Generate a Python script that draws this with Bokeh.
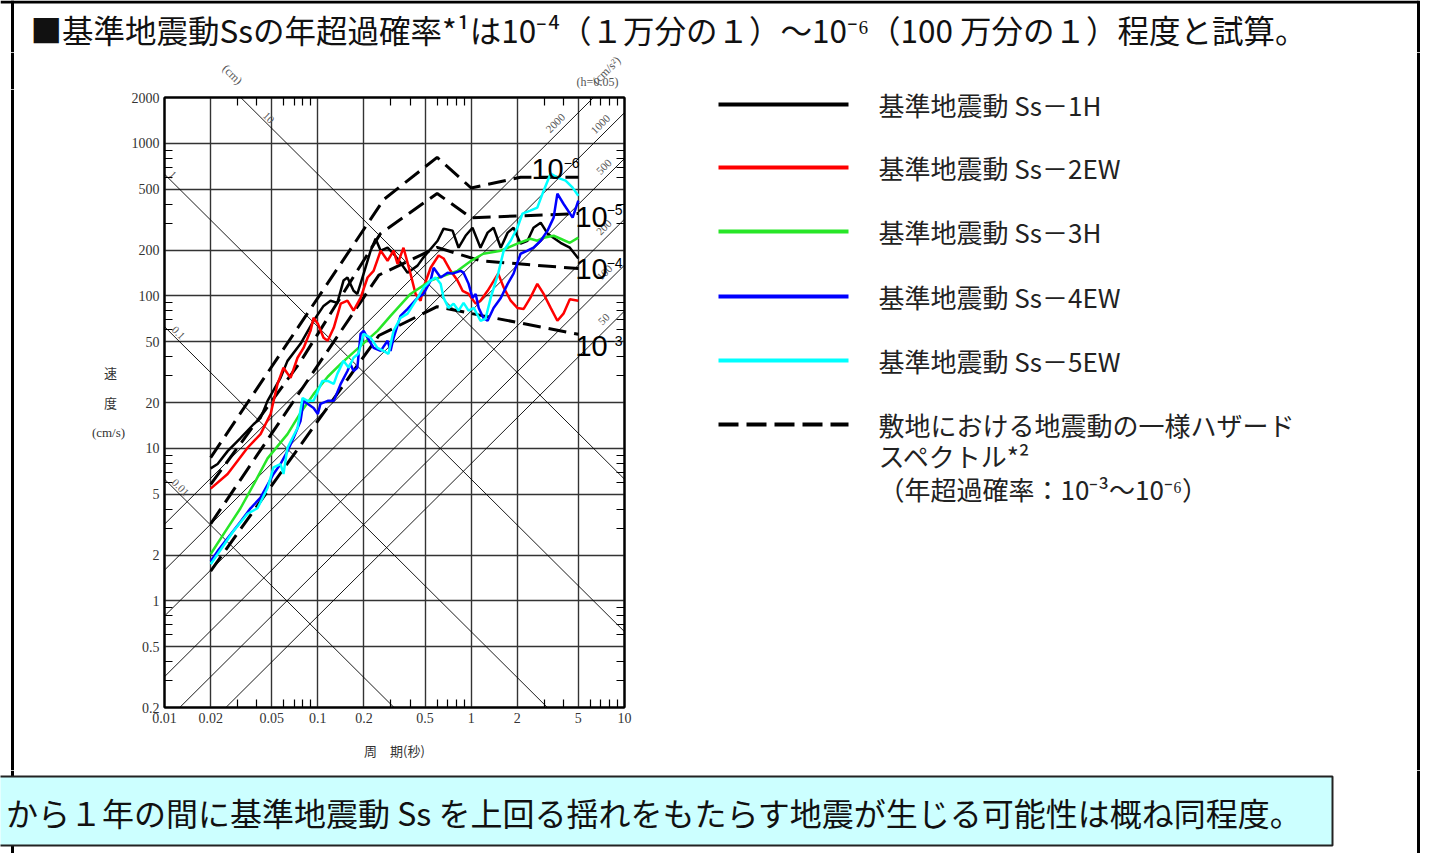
import numpy as np
from bokeh.plotting import figure
from bokeh.layouts import column, row
from bokeh.models import Range1d, FixedTicker, LogAxis, CustomJSTickFormatter
from bokeh.core.properties import value
from bokeh.embed import file_html
from bokeh.resources import INLINE

# ---------------- data (period [s], pseudo velocity [cm/s], h=0.05) ----------------
ss1h_period = [0.020, 0.0222, 0.0258, 0.0313, 0.0381, 0.0423, 0.047, 0.0571, 0.0634, 0.0771,
               0.0938, 0.109, 0.121, 0.134, 0.147, 0.156, 0.171, 0.181, 0.199, 0.221,
               0.238, 0.257, 0.285, 0.312, 0.346, 0.385, 0.447, 0.489, 0.604, 0.661,
               0.756, 0.828, 0.919, 1.02, 1.15, 1.28, 1.40, 1.56, 1.73, 1.89,
               2.10, 2.33, 2.55, 2.84, 3.15, 3.83, 4.4, 5.0]
ss1h_vel = [7.4, 7.9, 9.6, 11.7, 14.4, 15.8, 20.5, 29.0, 37.5, 48.5,
            68.7, 86, 93, 90, 126, 132, 108, 103, 140, 198,
            237, 198, 207, 189, 165, 142, 158, 179, 230, 276,
            268, 207, 248, 280, 207, 260, 280, 207, 260, 280,
            220, 230, 280, 302, 256, 223, 207, 176]

ss2ew_period = [0.020, 0.0258, 0.0348, 0.0423, 0.0492, 0.0546, 0.0597, 0.0664, 0.0737, 0.0807,
                0.0896, 0.0938, 0.100, 0.109, 0.116, 0.127, 0.141, 0.156, 0.171, 0.190,
                0.211, 0.231, 0.257, 0.285, 0.312, 0.331, 0.362, 0.402, 0.434, 0.468,
                0.489, 0.544, 0.613, 0.661, 0.734, 0.815, 0.879, 0.962, 1.07, 1.15,
                1.28, 1.50, 1.63, 1.81, 2.0, 2.2, 2.43, 2.70, 2.97, 3.30,
                3.65, 4.0, 4.4, 5.0]
ss2ew_vel = [5.45, 6.8, 10.1, 12.4, 16.8, 26.5, 33.8, 29.0, 39.3, 45.6,
             59, 71.8, 65.7, 53.1, 50.8, 61.8, 89, 93, 80, 97,
             132, 146, 198, 170, 198, 162, 207, 140, 103, 93,
             113.5, 153, 184, 176, 146, 126, 108, 103, 89, 93,
             108, 140, 113.5, 93, 83.4, 82.2, 97, 120, 103, 83.4,
             68.7, 76.5, 95, 93]

ss3h_period = [0.020, 0.025, 0.0313, 0.0392, 0.047, 0.0634, 0.0771, 0.0938, 0.116, 0.141,
               0.181, 0.245, 0.298, 0.402, 0.544, 0.815, 1.0, 1.20, 1.56, 2.0,
               2.43, 2.70, 2.97, 3.45, 3.83, 4.4, 5.0]
ss3h_vel = [2.03, 2.87, 4.05, 6.1, 8.6, 12.4, 17.1, 22.7, 29.5, 35.8,
            44.9, 59, 74, 103, 126, 146, 170, 189, 198, 220,
            237, 230, 241, 248, 237, 223, 241]

ss4ew_period = [0.020, 0.0222, 0.0313, 0.0364, 0.0423, 0.0514, 0.0571, 0.0634, 0.0694, 0.0771,
                0.0807, 0.0857, 0.0938, 0.100, 0.104, 0.116, 0.127, 0.141, 0.156, 0.163,
                0.171, 0.181, 0.190, 0.199, 0.211, 0.231, 0.257, 0.285, 0.298, 0.312,
                0.346, 0.385, 0.447, 0.489, 0.544, 0.569, 0.632, 0.702, 0.756, 0.853,
                0.892, 0.962, 1.02, 1.07, 1.12, 1.20, 1.28, 1.40, 1.56, 1.73,
                1.89, 2.10, 2.33, 2.55, 2.84, 3.15, 3.45, 3.65, 4.0, 4.59, 5.0]
ss4ew_vel = [1.82, 2.12, 3.3, 4.05, 4.75, 6.8, 7.9, 9.6, 11.7, 15.1,
             20.5, 19.6, 18.4, 16.8, 19.6, 20.5, 20.5, 26.5, 32.2, 35.8,
             32.2, 33.8, 56.4, 59, 53.1, 45.6, 43.6, 50.8, 43.6, 53.1,
             74, 82.2, 97, 103, 126, 153, 132, 142, 140, 146,
             142, 120, 97, 103, 83.4, 71.8, 68.7, 83.4, 97, 120,
             140, 189, 198, 207, 230, 268, 326, 468, 402, 326, 421]

ss5ew_period = [0.020, 0.0282, 0.0348, 0.0404, 0.047, 0.0514, 0.0571, 0.0597, 0.0634, 0.0737,
                0.0795, 0.0857, 0.0938, 0.107, 0.116, 0.127, 0.134, 0.147, 0.159, 0.171,
                0.184, 0.199, 0.221, 0.245, 0.268, 0.289, 0.312, 0.346, 0.385, 0.447,
                0.489, 0.544, 0.586, 0.632, 0.661, 0.712, 0.768, 0.828, 0.892, 0.962,
                1.04, 1.15, 1.24, 1.34, 1.50, 1.63, 1.81, 2.0, 2.16, 2.43,
                2.70, 2.97, 3.30, 3.65, 4.13, 4.59, 5.0]
ss5ew_vel = [1.74, 2.87, 3.73, 4.05, 5.5, 7.5, 7.9, 6.8, 10.1, 13.6,
             21.4, 20.5, 20.5, 27.7, 27.7, 26.5, 30.8, 37.5, 33.8, 39.3,
             41.7, 56.4, 53.1, 45.6, 43.6, 41.7, 59, 71.8, 76.5, 97,
             113.5, 126, 132, 120, 97, 83.4, 89, 80, 90, 80,
             83.4, 68.7, 70.7, 97, 140, 198, 230, 280, 346, 362,
             379, 490, 634, 597, 570, 513, 454]

# uniform hazard spectra (annual exceedance probability 1e-6 ... 1e-3)
uhs_1e6_period = [0.02, 0.27, 0.6, 1.0, 2.1, 5.0]
uhs_1e6_vel = [8.7, 430, 810, 510, 600, 600]
uhs_1e5_period = [0.02, 0.077, 0.256, 0.6, 1.0, 5.0]
uhs_1e5_vel = [5.8, 37, 256, 470, 325, 347]
uhs_1e4_period = [0.02, 0.25, 0.6, 1.15, 5.0]
uhs_1e4_vel = [3.2, 137, 208, 170, 151]
uhs_1e3_period = [0.02, 0.25, 0.6, 1.2, 5.0]
uhs_1e3_vel = [1.57, 55, 85, 74, 56]

# tripartite guide values
disp_lines_cm = [0.01, 0.1, 1, 10]
acc_lines_gal = [50, 100, 200, 500, 1000, 2000]

period_major_ticks = [0.01, 0.02, 0.05, 0.1, 0.2, 0.5, 1, 2, 5, 10]
period_minor_ticks = [0.03, 0.04, 0.06, 0.07, 0.08, 0.09, 0.3, 0.4, 0.6, 0.7, 0.8, 0.9,
                      3, 4, 6, 7, 8, 9]
vel_major_ticks = [0.2, 0.5, 1, 2, 5, 10, 20, 50, 100, 200, 500, 1000, 2000]
vel_minor_ticks = [0.3, 0.4, 0.6, 0.7, 0.8, 0.9, 3, 4, 6, 7, 8, 9, 30, 40, 60, 70, 80, 90,
                   300, 400, 600, 700, 800, 900]

series_labels = ["基準地震動 Ss－1H", "基準地震動 Ss－2EW", "基準地震動 Ss－3H",
                 "基準地震動 Ss－4EW", "基準地震動 Ss－5EW"]
series_colors = ["#000000", "#FF0000", "#28E628", "#0000FF", "#00FFFF"]
hazard_label_lines = ["敷地における地震動の一様ハザード", "スペクトル*²", "（年超過確率：10⁻³～10⁻⁶）"]
prob_tags = ["−6", "−5", "−4", "−3"]
title_text = "■基準地震動Ssの年超過確率*¹は10⁻⁴（１万分の１）～10⁻⁶（100 万分の１）程度と試算。"
box_text = "から１年の間に基準地震動 Ss を上回る揺れをもたらす地震が生じる可能性は概ね同程度。"

CJK = "Noto Sans CJK JP"
SERIF = "Liberation Serif"
SANS = "Liberation Sans"

# ---------------- page geometry (pixels) ----------------
PAGE_W, PAGE_H = 1428, 853
TITLE_B = 52        # bottom of title strip
TOP_B = 89          # bottom of strip above the chart frame
MID_B = 770         # bottom of chart strip
LEFT_R = 128        # right edge of left strip
CHART_R = 668       # right edge of chart figure


def deco(x0, x1, y0, y1):
    f = figure(width=x1 - x0, height=y1 - y0, x_range=Range1d(x0, x1), y_range=Range1d(y1, y0),
               x_axis_location=None, y_axis_location=None, min_border=0, toolbar_location=None,
               output_backend="svg", outline_line_color=None,
               background_fill_color="white", border_fill_color="white")
    f.grid.visible = False
    return f


def txt(f, x, y, t, size, font, color="#222222", align="left", angle=0.0):
    f.text(x=[x], y=[y], text=[t], text_font=value(font), text_font_size=size, text_color=color,
           text_align=align, text_baseline="middle", angle=angle)


# ---------------- chart ----------------
p = figure(x_axis_type="log", y_axis_type="log",
           x_range=Range1d(0.01, 10), y_range=Range1d(0.2, 2000),
           frame_width=460, frame_height=610,
           min_border_left=36, min_border_right=44, min_border_top=8, min_border_bottom=63,
           toolbar_location=None, output_backend="svg",
           background_fill_color="white", border_fill_color="white",
           outline_line_color="black", outline_line_width=2)

xt = FixedTicker(ticks=period_major_ticks, minor_ticks=period_minor_ticks)
yt = FixedTicker(ticks=vel_major_ticks, minor_ticks=vel_minor_ticks)
fmt = CustomJSTickFormatter(code="return String(tick);")
blank = CustomJSTickFormatter(code="return '';")

p.add_layout(LogAxis(), "above")
p.add_layout(LogAxis(), "right")

for ax in p.below + p.above:
    ax.ticker = xt
for ax in p.left + p.right:
    ax.ticker = yt
for ax in p.below + p.above + p.left + p.right:
    ax.formatter = fmt
    ax.axis_line_color = "black"
    ax.axis_line_width = 2
    ax.major_tick_in = 0
    ax.major_tick_out = 0
    ax.minor_tick_in = 8
    ax.minor_tick_out = 0
    ax.minor_tick_line_color = "black"
    ax.minor_tick_line_width = 1.2
    ax.major_label_text_font = SERIF
    ax.major_label_text_font_size = "14px"
    ax.major_label_text_color = "#333333"
for ax in p.above + p.right:
    ax.formatter = blank
    ax.major_label_text_font_size = "1px"
    ax.major_label_standoff = 0

bx = p.below[0]
bx.major_label_standoff = 5
bx.axis_label = "周　期(秒)"
bx.axis_label_text_font = CJK
bx.axis_label_text_font_size = "13px"
bx.axis_label_text_font_style = "normal"
bx.axis_label_text_color = "#333333"
bx.axis_label_standoff = 15
p.left[0].major_label_standoff = 5

p.xgrid.ticker = xt
p.ygrid.ticker = yt
p.grid.grid_line_color = "#333333"
p.grid.grid_line_width = 1.4

# tripartite guide lines
T_span = np.array([0.01, 10.0])
for d in disp_lines_cm:
    p.line(T_span, 2 * np.pi * d / T_span, line_color="black", line_width=0.9)
for a in acc_lines_gal:
    p.line(T_span, a * T_span / (2 * np.pi), line_color="black", line_width=0.9)

disp_label_T = [0.0127, 0.0123, 0.0113, 0.0477]
p.text(x=disp_label_T,
       y=[2 * np.pi * d / t * 1.12 for d, t in zip(disp_lines_cm, disp_label_T)],
       text=[str(d) for d in disp_lines_cm], angle=-np.pi / 4,
       text_font=value(SERIF), text_font_size="11px", text_color="#555555",
       text_align="center", text_baseline="middle")
acc_label_T = [7.35, 7.43, 7.35, 7.35, 6.98, 3.55]
p.text(x=acc_label_T,
       y=[a * t / (2 * np.pi) * 1.2 for a, t in zip(acc_lines_gal, acc_label_T)],
       text=[str(a) for a in acc_lines_gal], angle=np.pi / 4,
       text_font=value(SERIF), text_font_size="11px", text_color="#555555",
       text_align="center", text_baseline="middle")

# uniform hazard spectra
for T, V in [(uhs_1e6_period, uhs_1e6_vel), (uhs_1e5_period, uhs_1e5_vel),
             (uhs_1e4_period, uhs_1e4_vel), (uhs_1e3_period, uhs_1e3_vel)]:
    p.line(T, V, line_color="black", line_width=3, line_dash="18 8")

# Ss spectra
for T, V, c in zip([ss1h_period, ss2ew_period, ss3h_period, ss4ew_period, ss5ew_period],
                   [ss1h_vel, ss2ew_vel, ss3h_vel, ss4ew_vel, ss5ew_vel], series_colors):
    p.line(T, V, line_color=c, line_width=2.5)

# exceedance probability tags ("10" + exponent)
p.text(x=[3.15, 6.10, 6.10, 6.10], y=[684, 331, 149, 47.2], text=["10"] * 4,
       text_font=value(SANS), text_font_size="29px", text_color="black",
       text_align="center", text_baseline="middle")
p.text(x=[4.52, 8.62, 8.62, 8.62], y=[749, 368, 165, 50.9], text=prob_tags,
       text_font=value(SANS), text_font_size="14px", text_color="black",
       text_align="center", text_baseline="middle")

# ---------------- decoration strips ----------------
title = deco(0, PAGE_W, 0, TITLE_B)
title.segment(x0=[0, 12, 1418], y0=[1.5, 0, 0], x1=[1418, 12, 1418], y1=[1.5, TITLE_B, TITLE_B],
              line_color="black", line_width=3)
txt(title, 30, 28, title_text, "31.5px", CJK, color="#111111")

ctop = deco(0, CHART_R, TITLE_B, TOP_B)
ctop.segment(x0=[12], y0=[TITLE_B], x1=[12], y1=[TOP_B], line_color="black", line_width=3)
txt(ctop, 232, 74, "(cm)", "12px", SERIF, color="#555555", align="center", angle=-np.pi / 4)
txt(ctop, 606, 70, "(cm/s²)", "12px", SERIF, color="#555555", align="center", angle=np.pi / 4)
txt(ctop, 597, 81, "(h=0.05)", "12px", SERIF, color="#555555", align="center")

left = deco(0, LEFT_R, TOP_B, MID_B)
left.segment(x0=[12], y0=[TOP_B], x1=[12], y1=[MID_B], line_color="black", line_width=3)
txt(left, 110, 372, "速", "13px", CJK, color="#333333", align="center")
txt(left, 110, 402, "度", "13px", CJK, color="#333333", align="center")
txt(left, 108, 432, "(cm/s)", "13px", SERIF, color="#333333", align="center")

leg = deco(CHART_R, PAGE_W, TITLE_B, MID_B)
leg_rows = [104, 167, 231, 296, 360, 424]
for yy, c, t in zip(leg_rows[:5], series_colors, series_labels):
    leg.line([718, 848], [yy, yy], line_color=c, line_width=4)
    txt(leg, 878, yy, t, "26px", CJK)
leg.line([718, 848], [leg_rows[5], leg_rows[5]], line_color="black", line_width=4, line_dash="20 8")
for yy, t in zip([424, 455, 488], hazard_label_lines):
    txt(leg, 878, yy, t, "26px", CJK)
leg.segment(x0=[1418], y0=[TITLE_B], x1=[1418], y1=[MID_B], line_color="black", line_width=3)

bot = deco(0, PAGE_W, MID_B, PAGE_H)
bot.segment(x0=[12, 12, 1418], y0=[MID_B, 845, MID_B], x1=[12, 12, 1418], y1=[776, PAGE_H, PAGE_H],
            line_color="black", line_width=3)
bot.quad(left=[-10], right=[1332], top=[776], bottom=[845], fill_color="#CCFFFF",
         line_color="#222222", line_width=2)
txt(bot, 1302, 811, box_text, "32px", CJK, color="#111111", align="right")

chart_block = column(ctop, row(column(left), p))
layout = column(title, row(chart_block, column(leg)), bot)
open("out.html", "w").write(file_html(layout, INLINE))
